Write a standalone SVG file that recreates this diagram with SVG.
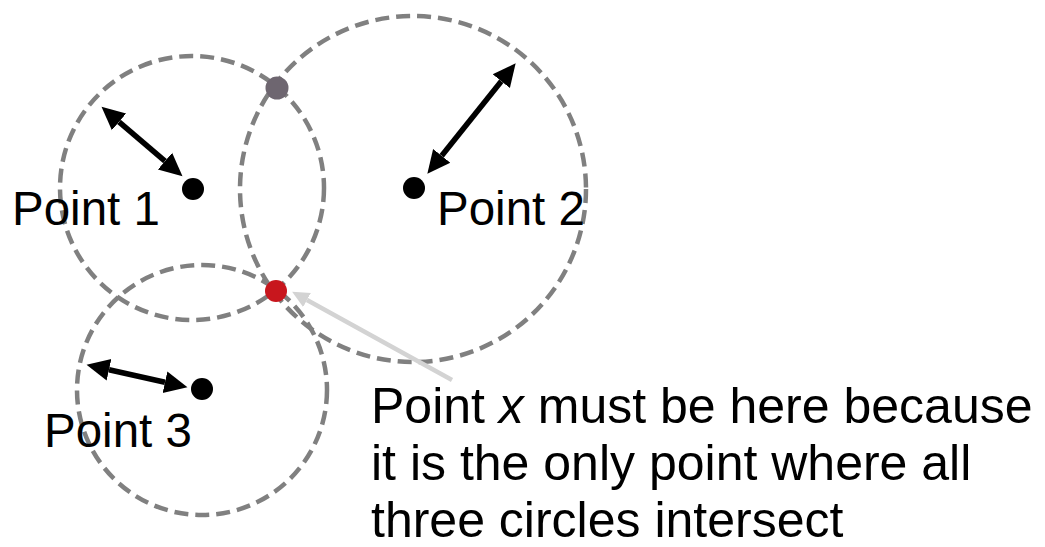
<svg xmlns="http://www.w3.org/2000/svg" width="1045" height="547" viewBox="0 0 1045 547">
<style>
.c{fill:none;stroke:#808080;stroke-width:4.5;stroke-dasharray:14 7}
.a{stroke:#000;stroke-width:5.5;fill:none}
.g{stroke:#d3d3d3;stroke-width:4.5;fill:none}
.t{font-family:"Liberation Sans",Arial,sans-serif;fill:#000}
</style>
<defs>
<marker id="ah" markerUnits="userSpaceOnUse" markerWidth="24" markerHeight="24" refX="0" refY="12" orient="auto-start-reverse" viewBox="0 0 24 24"><path d="M0,1 L23,12 L0,23 Z" fill="#000"/></marker>
<marker id="gh" markerUnits="userSpaceOnUse" markerWidth="18" markerHeight="18" refX="0" refY="9" orient="auto" viewBox="0 0 18 18"><path d="M0,1 L17,9 L0,17 Z" fill="#d3d3d3"/></marker>
</defs>
<g id="circles">
<circle class="c" cx="192" cy="188" r="132"/>
<circle class="c" cx="413" cy="189" r="173"/>
<circle class="c" cx="202" cy="390" r="125"/>
</g>
<g id="connectors">
<line class="a" x1="119" y1="121.8" x2="165" y2="161.2" marker-start="url(#ah)" marker-end="url(#ah)"/>
<line class="a" x1="441.7" y1="155.8" x2="501.3" y2="81.2" marker-start="url(#ah)" marker-end="url(#ah)"/>
<line class="a" x1="109" y1="369.8" x2="165" y2="382.2" marker-start="url(#ah)" marker-end="url(#ah)"/>
<line class="g" x1="452" y1="380" x2="307" y2="300" marker-end="url(#gh)"/>
</g>
<g id="point1"><circle cx="193" cy="189" r="11" fill="#000"/><text class="t" x="12" y="225" font-size="47.5">Point 1</text></g>
<g id="point2"><circle cx="414" cy="188" r="11" fill="#000"/><text class="t" x="437" y="225" font-size="47.5">Point 2</text></g>
<g id="point3"><circle cx="202" cy="389" r="11" fill="#000"/><text class="t" x="44" y="447" font-size="47.5">Point 3</text></g>
<g id="top-intersection"><circle cx="277" cy="88" r="11.5" fill="#6e6670"/></g>
<g id="point-x"><circle cx="276" cy="291" r="11" fill="#c8161d"/></g>
<g id="caption">
<text class="t" font-size="50">
<tspan x="371" y="423">Point <tspan font-style="italic">x</tspan> must be here because</tspan>
<tspan x="371" y="480">it is the only point where all</tspan>
<tspan x="371" y="537">three circles intersect</tspan>
</text>
</g>
</svg>
